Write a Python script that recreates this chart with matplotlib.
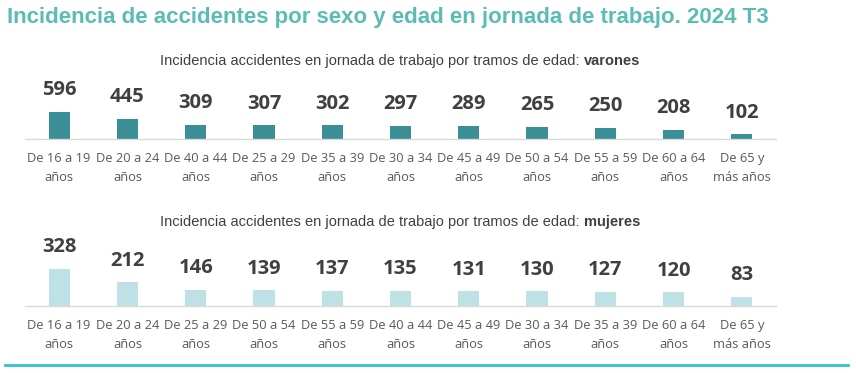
import matplotlib
matplotlib.use("Agg")
import matplotlib.pyplot as plt
import numpy as np

title = "Incidencia de accidentes por sexo y edad en jornada de trabajo. 2024 T3"
sub_prefix = "Incidencia accidentes en jornada de trabajo por tramos de edad: "

cats_varones = ["De 16 a 19\naños", "De 20 a 24\naños", "De 40 a 44\naños", "De 25 a 29\naños",
                "De 35 a 39\naños", "De 30 a 34\naños", "De 45 a 49\naños", "De 50 a 54\naños",
                "De 55 a 59\naños", "De 60 a 64\naños", "De 65 y\nmás años"]
vals_varones = [596, 445, 309, 307, 302, 297, 289, 265, 250, 208, 102]

cats_mujeres = ["De 16 a 19\naños", "De 20 a 24\naños", "De 25 a 29\naños", "De 50 a 54\naños",
                "De 55 a 59\naños", "De 40 a 44\naños", "De 45 a 49\naños", "De 30 a 34\naños",
                "De 35 a 39\naños", "De 60 a 64\naños", "De 65 y\nmás años"]
vals_mujeres = [328, 212, 146, 139, 137, 135, 131, 130, 127, 120, 83]

W, H = 856, 373
fig = plt.figure(figsize=(W / 100, H / 100), dpi=100)

def px_axes(x0, y_top, x1, y_bot):
    return fig.add_axes([x0 / W, 1 - y_bot / H, (x1 - x0) / W, (y_bot - y_top) / H])

label_color = "#404040"
tick_color = "#595959"

def draw(ax, cats, vals, color, ymax):
    x = np.arange(len(cats))
    ax.bar(x, vals, width=0.31, color=color, zorder=2)
    ax.set_xlim(-0.5, len(cats) - 0.5)
    ax.set_ylim(0, ymax)
    for s in ["top", "right", "left"]:
        ax.spines[s].set_visible(False)
    ax.spines["bottom"].set_color("#D9D9D9")
    ax.spines["bottom"].set_linewidth(1.0)
    ax.set_yticks([])
    ax.set_xticks(x)
    ax.set_xticklabels(cats, fontsize=9.3, color=tick_color, family="Open Sans", linespacing=1.6)
    ax.tick_params(axis="x", length=0, pad=9.5)
    ax.patch.set_alpha(0)
    for xi, v in zip(x, vals):
        ax.annotate(str(v), (xi, v), xytext=(0, 15.5), textcoords="offset points",
                    ha="center", va="center", fontsize=14.5, fontweight="bold",
                    color=label_color, family="Open Sans")

ax1 = px_axes(25, 60, 776, 139)
draw(ax1, cats_varones, vals_varones, "#3A8E95", 596 * 79 / 27)
ax2 = px_axes(25, 230, 776, 306)
draw(ax2, cats_mujeres, vals_mujeres, "#BDE1E5", 328 * 76 / 37)

fig.text(7 / W, 1 - 17 / H, title, fontsize=16, fontweight="bold", color="#5BBCB5",
         family="Liberation Sans", ha="left", va="center")

renderer = fig.canvas.get_renderer()

def subtitle(y, bold_word):
    fs = 10.5
    t1 = fig.text(0, 1 - y / H, sub_prefix, fontsize=fs, color="#404040",
                  family="Liberation Sans", ha="left", va="center")
    t2 = fig.text(0, 1 - y / H, bold_word, fontsize=fs, color="#404040", fontweight="bold",
                  family="Liberation Sans", ha="left", va="center")
    w1 = t1.get_window_extent(renderer).width
    w2 = t2.get_window_extent(renderer).width
    x0 = 400 - (w1 + w2) / 2
    t1.set_x(x0 / W)
    t2.set_x((x0 + w1) / W)

subtitle(61, "varones")
subtitle(222, "mujeres")

fig.add_artist(plt.Line2D([5 / W, 848 / W], [1 - 365 / H, 1 - 365 / H], color="#2EC4C8", lw=2))

fig.savefig("out.png", dpi=100)
